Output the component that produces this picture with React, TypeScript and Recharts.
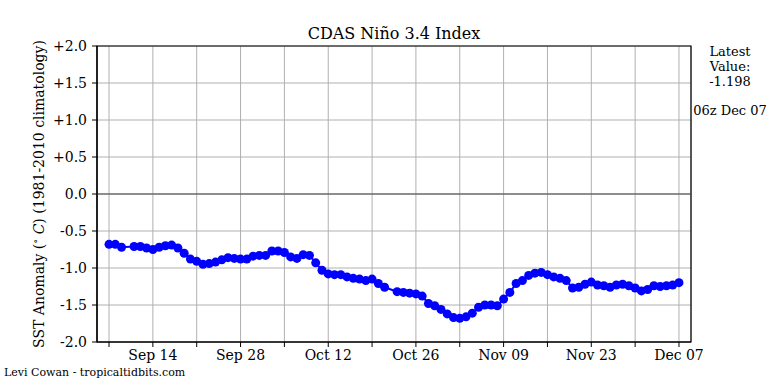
import React from "react";
import {
  LineChart,
  Line,
  XAxis,
  YAxis,
  CartesianGrid,
  ReferenceLine,
  ReferenceArea,
} from "recharts";

// Daily values starting Sep 07 (day 0) through Dec 07 (day 91); null = missing day
const anomalies: (number | null)[] = [
  -0.68, -0.68, -0.72, null, -0.71, -0.71, -0.73, -0.75, -0.72, -0.70,
  -0.69, -0.73, -0.80, -0.88, -0.91, -0.95, -0.94, -0.92, -0.89, -0.86,
  -0.87, -0.88, -0.88, -0.84, -0.83, -0.83, -0.77, -0.77, -0.79, -0.85,
  -0.87, -0.82, -0.83, -0.93, -1.03, -1.08, -1.09, -1.09, -1.12, -1.14,
  -1.15, -1.17, -1.15, -1.21, -1.26, null, -1.32, -1.33, -1.34, -1.35,
  -1.38, -1.48, -1.51, -1.56, -1.62, -1.67, -1.68, -1.66, -1.61, -1.53,
  -1.50, -1.50, -1.51, -1.42, -1.33, -1.21, -1.17, -1.10, -1.07, -1.06,
  -1.09, -1.12, -1.14, -1.17, -1.27, -1.26, -1.22, -1.19, -1.23, -1.24,
  -1.26, -1.23, -1.22, -1.24, -1.27, -1.31, -1.29, -1.24, -1.25, -1.24,
  -1.23, -1.198,
];

const tickDays = [0, 7, 14, 21, 28, 35, 42, 49, 56, 63, 70, 77, 84, 91];
const tickLabels = [
  "", "Sep 14", "", "Sep 28", "", "Oct 12", "", "Oct 26", "", "Nov 09", "", "Nov 23", "", "Dec 07",
];
const yTicks = [-2, -1.5, -1, -0.5, 0, 0.5, 1, 1.5, 2];

const title = "CDAS Niño 3.4 Index";
const latestLines = ["Latest", "Value:", "-1.198"];
const latestTime = "06z Dec 07";
const credit = "Levi Cowan - tropicaltidbits.com";

const data = anomalies.map((v, i) => ({ day: i, value: v }));

const FONT = "'DejaVu Serif', serif";
const X_DOMAIN: [number, number] = [-1.92, 92.92];

const fmtY = (v: number) => (v > 0 ? "+" + v.toFixed(1) : v.toFixed(1));
const fmtX = (v: number) => {
  const i = tickDays.indexOf(v);
  return i >= 0 ? tickLabels[i] : "";
};

export default function App() {
  return (
    <div
      style={{
        position: "absolute",
        left: 0,
        top: 0,
        width: 768,
        height: 384,
        background: "#fff",
        fontFamily: FONT,
        color: "#000",
      }}
    >
      <LineChart
        width={768}
        height={384}
        data={data}
        margin={{ top: 46, right: 77, bottom: 12, left: 37 }}
      >
        <CartesianGrid stroke="#b0b0b0" strokeWidth={1} />
        <XAxis
          dataKey="day"
          type="number"
          domain={X_DOMAIN}
          allowDataOverflow
          ticks={tickDays}
          tickFormatter={fmtX}
          height={30}
          tickSize={5}
          tickMargin={3}
          axisLine={{ stroke: "#000", strokeWidth: 1.2 }}
          tickLine={{ stroke: "#000" }}
          tick={{ fill: "#000", fontSize: 14, fontFamily: FONT }}
          interval={0}
        />
        <YAxis
          type="number"
          domain={[-2, 2]}
          ticks={yTicks}
          tickFormatter={fmtY}
          width={60}
          tickSize={5}
          tickMargin={5}
          axisLine={{ stroke: "#000", strokeWidth: 1.2 }}
          tickLine={{ stroke: "#000" }}
          tick={{ fill: "#000", fontSize: 14, fontFamily: FONT }}
          interval={0}
        />
        <ReferenceLine y={0} stroke="#444" strokeWidth={1.2} />
        <ReferenceArea
          x1={X_DOMAIN[0]}
          x2={X_DOMAIN[1]}
          y1={-2}
          y2={2}
          stroke="#000"
          strokeWidth={1.2}
          fill="none"
          fillOpacity={0}
          ifOverflow="visible"
        />
        <Line
          type="linear"
          dataKey="value"
          stroke="#0000ff"
          strokeWidth={2}
          connectNulls
          isAnimationActive={false}
          dot={{ r: 4.5, fill: "#0000ff", stroke: "none" }}
          activeDot={false}
        />
      </LineChart>

      <div
        style={{
          position: "absolute",
          left: 97,
          width: 594,
          top: 24,
          textAlign: "center",
          fontSize: 16,
          lineHeight: "20px",
        }}
      >
        {title}
      </div>

      <div
        style={{
          position: "absolute",
          left: 36 - 220,
          top: 194 - 10,
          width: 440,
          height: 20,
          lineHeight: "20px",
          textAlign: "center",
          fontSize: 14,
          transform: "rotate(-90deg)",
          whiteSpace: "nowrap",
        }}
      >
        SST Anomaly (
        <span style={{ fontSize: 10, verticalAlign: "5px" }}>∘</span>
        {" "}
        <span style={{ fontStyle: "italic" }}>C</span>) (1981-2010 climatology)
      </div>

      <div
        style={{
          position: "absolute",
          left: 695,
          width: 70,
          top: 44,
          textAlign: "center",
          fontSize: 13,
          lineHeight: "15px",
        }}
      >
        {latestLines.map((l) => (
          <div key={l}>{l}</div>
        ))}
      </div>
      <div
        style={{
          position: "absolute",
          left: 690,
          width: 80,
          top: 103,
          textAlign: "center",
          fontSize: 13,
          lineHeight: "15px",
          whiteSpace: "nowrap",
        }}
      >
        {latestTime}
      </div>

      <div
        style={{
          position: "absolute",
          left: 4,
          top: 366,
          fontSize: 11,
          lineHeight: "13px",
          whiteSpace: "nowrap",
        }}
      >
        {credit}
      </div>
    </div>
  );
}
